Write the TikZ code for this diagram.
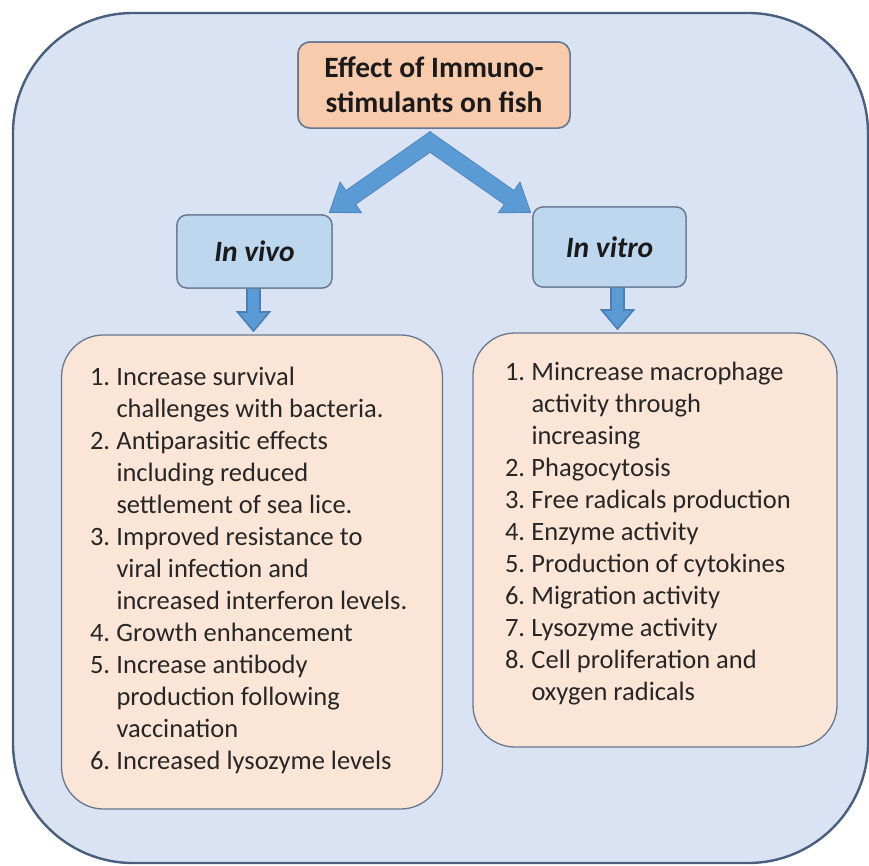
\documentclass[tikz,border=0pt]{standalone}
\usepackage{fontspec}
\setmainfont{Carlito}
\usetikzlibrary{calc}

\definecolor{framefill}{HTML}{DAE3F3}
\definecolor{frameline}{HTML}{4A5F7E}
\definecolor{titlefill}{HTML}{F8CBAD}
\definecolor{boxline}{HTML}{66788F}
\definecolor{methodfill}{HTML}{BDD7EE}
\definecolor{listfill}{HTML}{FBE5D6}
\definecolor{arrowfill}{HTML}{5B9BD5}
\definecolor{arrowline}{HTML}{4A7FB5}
\definecolor{ink}{HTML}{262626}
\definecolor{darkink}{HTML}{1A1A1A}

% block arrow: style, start, tip, shaft half-width, head half-width, head length
\newcommand\blockarrow[6]{%
  \coordinate (ba-neck) at ($(#3)!#6!(#2)$);
  \path[#1] ($(#2)!#4!90:(#3)$) -- ($(ba-neck)!#4!90:(#3)$)
    -- ($(ba-neck)!#5!90:(#3)$) -- (#3)
    -- ($(ba-neck)!#5!-90:(#3)$) -- ($(ba-neck)!#4!-90:(#3)$)
    -- ($(#2)!#4!-90:(#3)$) -- cycle;
}
\newcommand\itemno[1]{\makebox[26.5pt][l]{#1}}

\tikzset{
  frame/.style={draw=frameline, fill=framefill, line width=2.4pt,
    rounded corners=120pt, inner sep=0pt, outer sep=0pt},
  titlebox/.style={draw=boxline, fill=titlefill, line width=1.5pt,
    rounded corners=12pt, inner sep=0pt, outer sep=0pt, align=center,
    text=darkink, font=\bfseries\fontsize{29.5}{35}\selectfont},
  methodbox/.style={draw=boxline, fill=methodfill, line width=1.3pt,
    rounded corners=10pt, inner sep=0pt, outer sep=0pt,
    text=darkink, font=\bfseries\itshape\fontsize{29.5}{35}\selectfont},
  listbox/.style={draw=boxline, fill=listfill, line width=1.3pt,
    rounded corners=42pt, inner sep=0pt, outer sep=0pt},
  listtext/.style={inner sep=0pt, outer sep=0pt, anchor=base west,
    text=ink, font=\fontsize{26.5}{32}\selectfont},
  arrowbody/.style={fill=arrowfill, draw=arrowline, line width=1.6pt, line join=miter},
  arrowcore/.style={fill=arrowfill},
}

\begin{document}
\begin{tikzpicture}[x=1pt, y=-1pt]
\useasboundingbox (0,0) rectangle (869,865);

% outer panel
\node[frame, minimum width=855pt, minimum height=850pt] (frame) at (440.5,438) {};

% boxes (positions only; drawn later on top of the arrows)
\path
  node[titlebox, minimum width=272pt, minimum height=86pt] (title) at (434,85)
    {Effect of Immuno-\\stimulants on fish}
  node[methodbox, minimum width=155pt, minimum height=73pt] (vivo) at (254.5,251.5) {In vivo}
  node[methodbox, minimum width=153pt, minimum height=80pt] (vitro) at (609.5,247) {In vitro};

% arrow end points
\coordinate (fork) at ($(title.south)+(-4,14)$);
\coordinate (vivoIn) at (330,212);
\coordinate (vitroIn) at (530,212);
\coordinate (forkL) at ($(fork)!-5.6pt!(vivoIn)$);
\coordinate (forkR) at ($(fork)!-5.6pt!(vitroIn)$);
\coordinate (vivoOut) at ($(vivo.south)+(-1,0)$);
\coordinate (vivoDown) at ($(vivo.south)+(-1,43)$);
\coordinate (vitroOut) at ($(vitro.south)+(8,0)$);
\coordinate (vitroDown) at ($(vitro.south)+(8,42)$);

% branching arrows: outlines first, then fill over the overlap
\blockarrow{arrowbody}{forkL}{vivoIn}{8pt}{18pt}{25pt}
\blockarrow{arrowbody}{forkR}{vitroIn}{8pt}{18pt}{25pt}
\blockarrow{arrowcore}{forkL}{vivoIn}{8pt}{18pt}{25pt}
\blockarrow{arrowcore}{forkR}{vitroIn}{8pt}{18pt}{25pt}

% downward arrows
\blockarrow{arrowbody}{vivoOut}{vivoDown}{6.5pt}{16pt}{19pt}
\blockarrow{arrowbody}{vitroOut}{vitroDown}{6.5pt}{16pt}{19pt}

% boxes on top
\node[titlebox, minimum width=272pt, minimum height=86pt] at (title) {Effect of Immuno-\\stimulants on fish};
\node[methodbox, minimum width=155pt, minimum height=73pt] at (vivo) {In vivo};
\node[methodbox, minimum width=153pt, minimum height=80pt] at (vitro) {In vitro};

% result lists
\node[listbox, minimum width=381pt, minimum height=474pt] (vivolist) at (252,572) {};
\node[listbox, minimum width=364pt, minimum height=414pt] (vitrolist) at (655,540) {};

\node[listtext] (vivoitems) at (90,385) {\begin{tabular}[t]{@{}l@{}l@{}}
\itemno{1.} & Increase survival\\
 & challenges with bacteria.\\
\itemno{2.} & Antiparasitic effects\\
 & including reduced\\
 & settlement of sea lice.\\
\itemno{3.} & Improved resistance to\\
 & viral infection and\\
 & increased interferon levels.\\
\itemno{4.} & Growth enhancement\\
\itemno{5.} & Increase antibody\\
 & production following\\
 & vaccination\\
\itemno{6.} & Increased lysozyme levels
\end{tabular}};

\node[listtext] (vitroitems) at (505,380) {\begin{tabular}[t]{@{}l@{}l@{}}
\itemno{1.} & Mincrease macrophage\\
 & activity through\\
 & increasing\\
\itemno{2.} & Phagocytosis\\
\itemno{3.} & Free radicals production\\
\itemno{4.} & Enzyme activity\\
\itemno{5.} & Production of cytokines\\
\itemno{6.} & Migration activity\\
\itemno{7.} & Lysozyme activity\\
\itemno{8.} & Cell proliferation and\\
 & oxygen radicals
\end{tabular}};
\end{tikzpicture}
\end{document}
